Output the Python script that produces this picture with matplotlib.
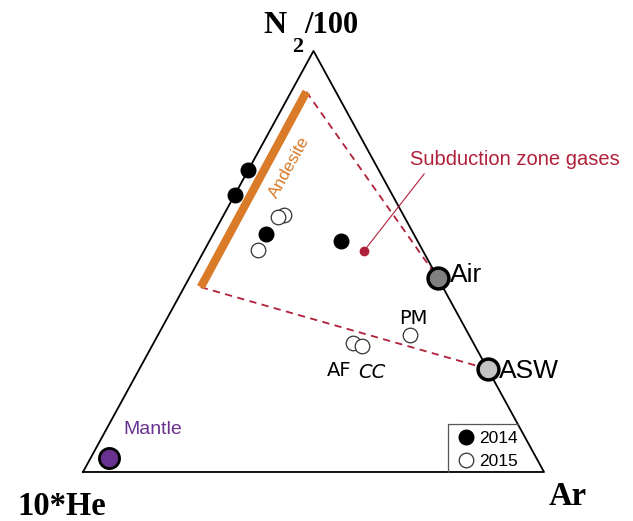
import matplotlib.pyplot as plt

# Ternary compositions, fractions of (10*He, N2/100, Ar)
he_2014 = [0.283, 0.342, 0.321, 0.166]
n2_2014 = [0.717, 0.658, 0.565, 0.549]
ar_2014 = [0.000, 0.000, 0.114, 0.285]

he_2015 = [0.259, 0.274, 0.357, 0.128, 0.262, 0.245]
n2_2015 = [0.610, 0.606, 0.527, 0.325, 0.306, 0.299]
ar_2015 = [0.131, 0.120, 0.116, 0.547, 0.432, 0.456]

# end members
air = (0.0, 0.46, 0.54)
asw = (0.0, 0.245, 0.755)
mantle = (0.926, 0.034, 0.040)
subduction = (0.128, 0.525, 0.347)
andesite_top = (0.064, 0.903, 0.033)
andesite_bottom = (0.525, 0.439, 0.036)

RED = '#B0203A'
ORANGE = '#D97B29'
PURPLE = '#6A3290'


def tern(he, n2, ar):
    """ternary fractions -> cartesian (He at 0,0 / Ar at 1,0 / N2 at top)"""
    if hasattr(he, '__len__'):
        pts = [tern(a, b, c) for a, b, c in zip(he, n2, ar)]
        return [p[0] for p in pts], [p[1] for p in pts]
    s = he + n2 + ar
    return ar / s + 0.5 * n2 / s, n2 / s


fig = plt.figure(figsize=(6.33, 5.21), dpi=100)
ax = fig.add_axes([0, 0, 1, 1])
ax.set_xlim(-0.180, 1.193)
ax.set_ylim(-0.1164, 1.121)
ax.axis('off')

# triangle frame
corners = [(1, 0, 0), (0, 1, 0), (0, 0, 1), (1, 0, 0)]
tx, ty = tern(*zip(*corners))
ax.plot(tx, ty, color='black', lw=1.3, zorder=2)

# andesite field and mixing lines to air / ASW
x, y = tern(*zip(andesite_top, andesite_bottom))
ax.plot(x, y, color=ORANGE, lw=6, solid_capstyle='butt', zorder=3)
x, y = tern(*zip(andesite_top, air))
ax.plot(x, y, color=RED, lw=1.3, ls=(0, (4, 3)), zorder=2)
x, y = tern(*zip(andesite_bottom, asw))
ax.plot(x, y, color=RED, lw=1.3, ls=(0, (4, 3)), zorder=2)
ax.text(0.448, 0.724, 'Andesite', color=ORANGE, fontsize=12.5, rotation=61,
        ha='center', va='center', family='Liberation Sans')

# subduction zone gases
sx, sy = tern(*subduction)
ax.plot([sx, 0.740], [sy, 0.708], color=RED, lw=0.8, zorder=3)
ax.plot(sx, sy, 'o', color=RED, ms=6, zorder=4)
ax.text(0.937, 0.743, 'Subduction zone gases', color=RED, fontsize=14.5,
        ha='center', va='center', family='Liberation Sans')

# air, ASW, mantle
x, y = tern(*air)
ax.plot(x, y, 'o', ms=15, mfc='#808080', mec='black', mew=2.5, zorder=5)
ax.text(x + 0.025, y + 0.007, 'Air', fontsize=19, va='center', family='Liberation Sans')
x, y = tern(*asw)
ax.plot(x, y, 'o', ms=15, mfc='#c4c4c4', mec='black', mew=2.5, zorder=5)
ax.text(x + 0.024, y - 0.005, 'ASW', fontsize=19, va='center', family='Liberation Sans')
x, y = tern(*mantle)
ax.plot(x, y, 'o', ms=14.5, mfc=PURPLE, mec='black', mew=2, zorder=5)
ax.text(0.152, 0.102, 'Mantle', color=PURPLE, fontsize=14, ha='center', va='center',
        family='Liberation Sans')

# samples
x, y = tern(he_2014, n2_2014, ar_2014)
h14, = ax.plot(x, y, 'o', ls='none', ms=10.5, mfc='black', mec='black', zorder=6, label='2014')
x, y = tern(he_2015, n2_2015, ar_2015)
h15, = ax.plot(x, y, 'o', ls='none', ms=10.5, mfc='white', mec='#333333', mew=0.9, zorder=6,
               label='2015')

ax.text(0.717, 0.365, 'PM', fontsize=14, ha='center', va='center', family='DejaVu Sans')
ax.text(0.555, 0.240, 'AF', fontsize=14, ha='center', va='center', family='DejaVu Sans')
ax.text(0.626, 0.237, 'CC', fontsize=14, ha='center', va='center', family='DejaVu Sans',
        style='italic')

# vertex labels
serif = dict(family='Liberation Serif', weight='bold', va='baseline')
ax.text(0.392, 1.043, 'N', fontsize=23, ha='left', **serif)
ax.text(0.453, 0.998, '2', fontsize=16, ha='left', **serif)
ax.text(0.480, 1.043, '/100', fontsize=22, ha='left', **serif)
ax.text(-0.143, -0.102, '10*He', fontsize=23.5, ha='left', **serif)
ax.text(1.009, -0.078, 'Ar', fontsize=23.5, ha='left', **serif)

# legend box, closed on the right by the triangle edge
box_x, box_y = 0.792, 0.114
ax.plot([box_x, box_x, 1 - 0.5 * box_y], [0, box_y, box_y], color='#555555', lw=0.9, zorder=2)
ax.legend(handles=[h14, h15], loc='upper left', bbox_to_anchor=(box_x, box_y),
          bbox_transform=ax.transData, frameon=False, borderaxespad=0,
          handletextpad=0.1, handlelength=1.3, borderpad=0.4, labelspacing=0.45,
          prop={'family': 'Liberation Sans', 'size': 12.5})

fig.savefig('out.png', dpi=100)
